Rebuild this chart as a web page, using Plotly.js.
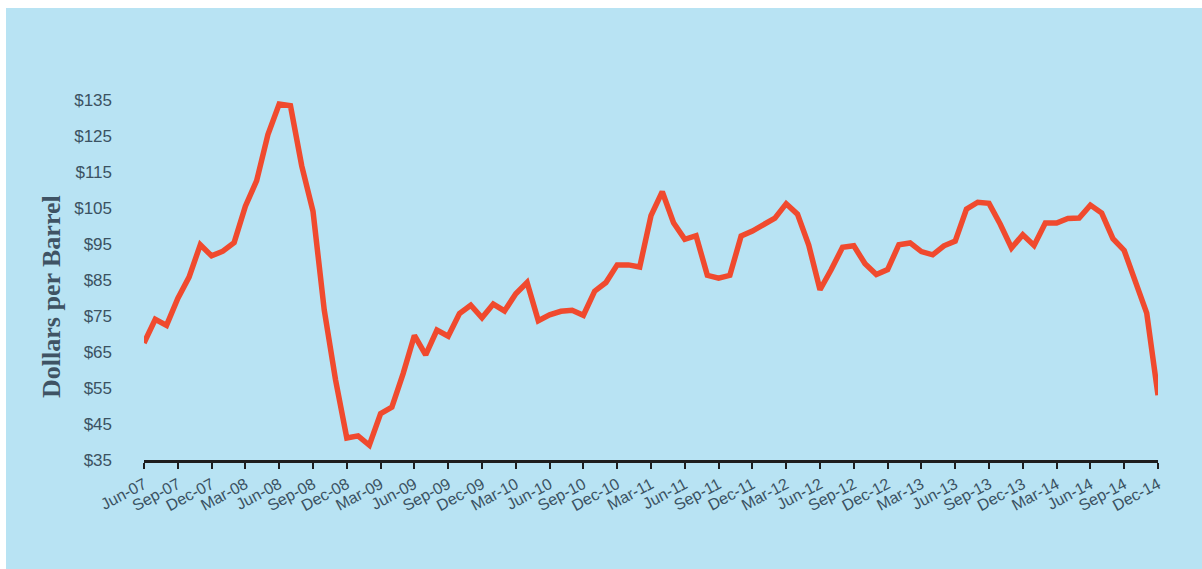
<!DOCTYPE html>
<html>
<head>
<meta charset="utf-8">
<script src="https://cdn.plot.ly/plotly-3.0.1.min.js"></script>
<style>
  html, body { margin: 0; padding: 0; background: #ffffff; }
  #chart { position: absolute; left: 6px; top: 8px; width: 1196px; height: 561px; }
</style>
</head>
<body>
<div id="chart"></div>
<script>
// Monthly categories Jun-07 .. Dec-14
const months = [
  "Jun-07","Jul-07","Aug-07","Sep-07","Oct-07","Nov-07","Dec-07",
  "Jan-08","Feb-08","Mar-08","Apr-08","May-08","Jun-08","Jul-08","Aug-08","Sep-08","Oct-08","Nov-08","Dec-08",
  "Jan-09","Feb-09","Mar-09","Apr-09","May-09","Jun-09","Jul-09","Aug-09","Sep-09","Oct-09","Nov-09","Dec-09",
  "Jan-10","Feb-10","Mar-10","Apr-10","May-10","Jun-10","Jul-10","Aug-10","Sep-10","Oct-10","Nov-10","Dec-10",
  "Jan-11","Feb-11","Mar-11","Apr-11","May-11","Jun-11","Jul-11","Aug-11","Sep-11","Oct-11","Nov-11","Dec-11",
  "Jan-12","Feb-12","Mar-12","Apr-12","May-12","Jun-12","Jul-12","Aug-12","Sep-12","Oct-12","Nov-12","Dec-12",
  "Jan-13","Feb-13","Mar-13","Apr-13","May-13","Jun-13","Jul-13","Aug-13","Sep-13","Oct-13","Nov-13","Dec-13",
  "Jan-14","Feb-14","Mar-14","Apr-14","May-14","Jun-14","Jul-14","Aug-14","Sep-14","Oct-14","Nov-14","Dec-14"
];

// Dollars per barrel
const prices = [
  67.5, 74.1, 72.4, 79.9, 85.8, 94.8, 91.7,
  93.0, 95.4, 105.5, 112.6, 125.4, 133.9, 133.4, 116.7, 104.1, 76.6, 57.3, 41.1,
  41.7, 39.1, 47.9, 49.7, 59.0, 69.6, 64.2, 71.1, 69.4, 75.7, 78.0, 74.5,
  78.3, 76.4, 81.2, 84.3, 73.7, 75.3, 76.3, 76.6, 75.2, 81.9, 84.3, 89.2,
  89.2, 88.6, 102.9, 109.5, 100.9, 96.3, 97.3, 86.3, 85.5, 86.3, 97.2, 98.6,
  100.3, 102.2, 106.2, 103.3, 94.7, 82.3, 87.9, 94.1, 94.5, 89.5, 86.5, 87.9,
  94.8, 95.3, 92.9, 92.0, 94.5, 95.8, 104.7, 106.6, 106.3, 100.5, 93.9, 97.6,
  94.6, 100.8, 100.8, 102.1, 102.2, 105.8, 103.6, 96.5, 93.2, 84.4, 75.8, 53.0
];

// Tick labels shown on the x axis (every third month)
const xTickLabels = [
  "Jun-07","Sep-07","Dec-07","Mar-08","Jun-08","Sep-08","Dec-08","Mar-09","Jun-09","Sep-09","Dec-09",
  "Mar-10","Jun-10","Sep-10","Dec-10","Mar-11","Jun-11","Sep-11","Dec-11","Mar-12","Jun-12","Sep-12",
  "Dec-12","Mar-13","Jun-13","Sep-13","Dec-13","Mar-14","Jun-14","Sep-14","Dec-14"
];

const yTickVals = [35, 45, 55, 65, 75, 85, 95, 105, 115, 125, 135];
const yTickText = ["$35","$45","$55","$65","$75","$85","$95","$105","$115","$125","$135"];

const tickFont = { family: "Liberation Sans, Arial, sans-serif", size: 16, color: "#3b5262" };

const trace = {
  x: months,
  y: prices,
  type: "scatter",
  mode: "lines",
  line: { color: "#f04a2e", width: 5.5, shape: "linear" },
  hoverinfo: "x+y"
};

const layout = {
  width: 1196,
  height: 561,
  paper_bgcolor: "#b8e3f3",
  plot_bgcolor: "rgba(0,0,0,0)",
  margin: { l: 138, r: 44, t: 92, b: 109 },
  showlegend: false,
  xaxis: {
    type: "category",
    range: [0, months.length - 1],
    tickmode: "array",
    tickvals: xTickLabels,
    ticktext: xTickLabels,
    tickangle: -28,
    tickfont: tickFont,
    showline: true,
    linecolor: "#1e1e1e",
    linewidth: 3,
    ticks: "outside",
    ticklen: 6,
    tickwidth: 2,
    tickcolor: "#1e1e1e",
    showgrid: false,
    zeroline: false,
    fixedrange: true
  },
  yaxis: {
    range: [35, 135],
    tickmode: "array",
    tickvals: yTickVals,
    ticktext: yTickText,
    tickfont: Object.assign({}, tickFont, { size: 17 }),
    showline: false,
    ticks: "",
    showgrid: false,
    zeroline: false,
    ticklabelstandoff: 31,
    fixedrange: true
  },
  annotations: [{
    text: "<b>Dollars per Barrel</b>",
    xref: "paper", yref: "paper",
    x: -0.0907, y: 0.453,
    xanchor: "center", yanchor: "middle",
    textangle: -90,
    showarrow: false,
    font: { family: "Liberation Serif, Times New Roman, serif", size: 26, color: "#3f5364" }
  }]
};

Plotly.newPlot("chart", [trace], layout, { displayModeBar: false, staticPlot: true });
</script>
</body>
</html>
